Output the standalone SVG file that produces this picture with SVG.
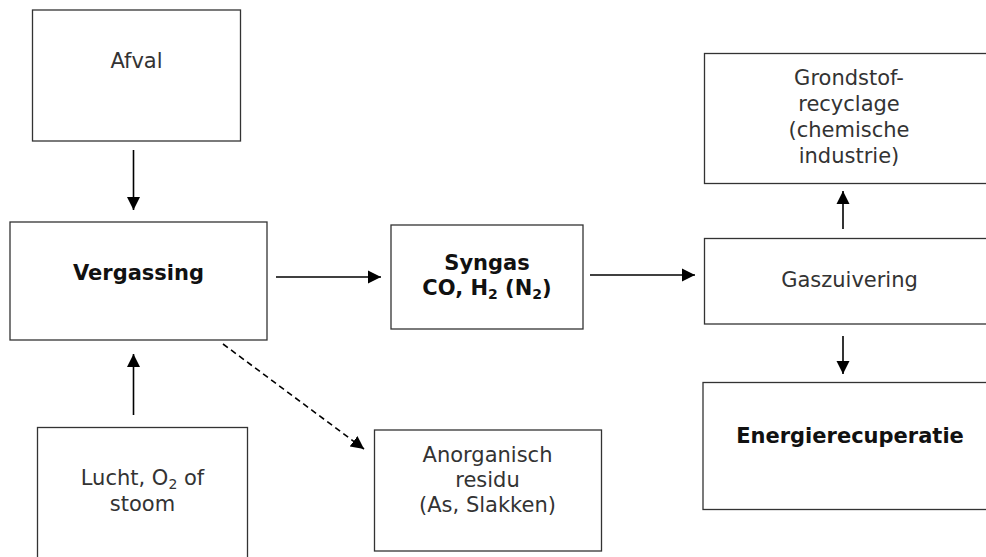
<svg xmlns="http://www.w3.org/2000/svg" width="986" height="557" viewBox="0 0 986 557">
<style>
.box{fill:#fff;stroke:#333;stroke-width:1.3}
.t{font-family:"DejaVu Sans",Verdana,sans-serif;font-size:21px;fill:#333;text-anchor:middle}
.b{font-family:"DejaVu Sans",Verdana,sans-serif;font-size:21px;font-weight:bold;fill:#111;text-anchor:middle}
.sub{font-size:14px}
.c{stroke:#000;stroke-width:1.6;fill:none}
.d{stroke:#000;stroke-width:1.6;fill:none;stroke-dasharray:6 4}
</style>
<defs>
<marker id="ah" markerUnits="userSpaceOnUse" markerWidth="14" markerHeight="14" viewBox="0 0 14 14" refX="13" refY="7" orient="auto">
<path d="M0,0.5 L13,7 L0,13.5 Z" fill="#000"/>
</marker>
</defs>
<rect width="986" height="557" fill="#fff"/>
<g id="connectors">
<line class="c" x1="133.5" y1="150" x2="133.5" y2="210" marker-end="url(#ah)"/>
<line class="c" x1="133.5" y1="415" x2="133.5" y2="354" marker-end="url(#ah)"/>
<line class="c" x1="276" y1="277" x2="381" y2="277" marker-end="url(#ah)"/>
<line class="c" x1="590" y1="275" x2="695" y2="275" marker-end="url(#ah)"/>
<line class="c" x1="843" y1="229" x2="843" y2="191" marker-end="url(#ah)"/>
<line class="c" x1="843" y1="336" x2="843" y2="374" marker-end="url(#ah)"/>
<line class="d" x1="223" y1="344" x2="364" y2="449" marker-end="url(#ah)"/>
</g>
<g id="afval">
<rect class="box" x="32.5" y="10" width="208" height="131"/>
<text class="t" x="136.5" y="68">Afval</text>
</g>
<g id="vergassing">
<rect class="box" x="10" y="222" width="257" height="118"/>
<text class="b" x="138.5" y="280">Vergassing</text>
</g>
<g id="lucht">
<rect class="box" x="37.5" y="427.5" width="210" height="135"/>
<text class="t" x="142.5" y="485">Lucht, O<tspan class="sub" dy="4">2</tspan><tspan dy="-4"> of</tspan></text>
<text class="t" x="142.5" y="511">stoom</text>
</g>
<g id="syngas">
<rect class="box" x="391" y="225" width="192" height="104"/>
<text class="b" x="487" y="270">Syngas</text>
<text class="b" x="487" y="295">CO, H<tspan class="sub" dy="4">2</tspan><tspan dy="-4"> (N</tspan><tspan class="sub" dy="4">2</tspan><tspan dy="-4">)</tspan></text>
</g>
<g id="residu">
<rect class="box" x="374.5" y="430" width="227" height="121"/>
<text class="t" x="487.5" y="462">Anorganisch</text>
<text class="t" x="487.5" y="487">residu</text>
<text class="t" x="487.5" y="512">(As, Slakken)</text>
</g>
<g id="gaszuivering">
<rect class="box" x="704.5" y="238.5" width="300" height="85.5"/>
<text class="t" x="849.5" y="287">Gaszuivering</text>
</g>
<g id="grondstof">
<rect class="box" x="704.5" y="53.5" width="300" height="130"/>
<text class="t" x="849" y="85">Grondstof-</text>
<text class="t" x="849" y="111">recyclage</text>
<text class="t" x="849" y="137">(chemische</text>
<text class="t" x="849" y="163">industrie)</text>
</g>
<g id="energie">
<rect class="box" x="703" y="382.5" width="300" height="127"/>
<text class="b" x="850" y="443">Energierecuperatie</text>
</g>
</svg>
